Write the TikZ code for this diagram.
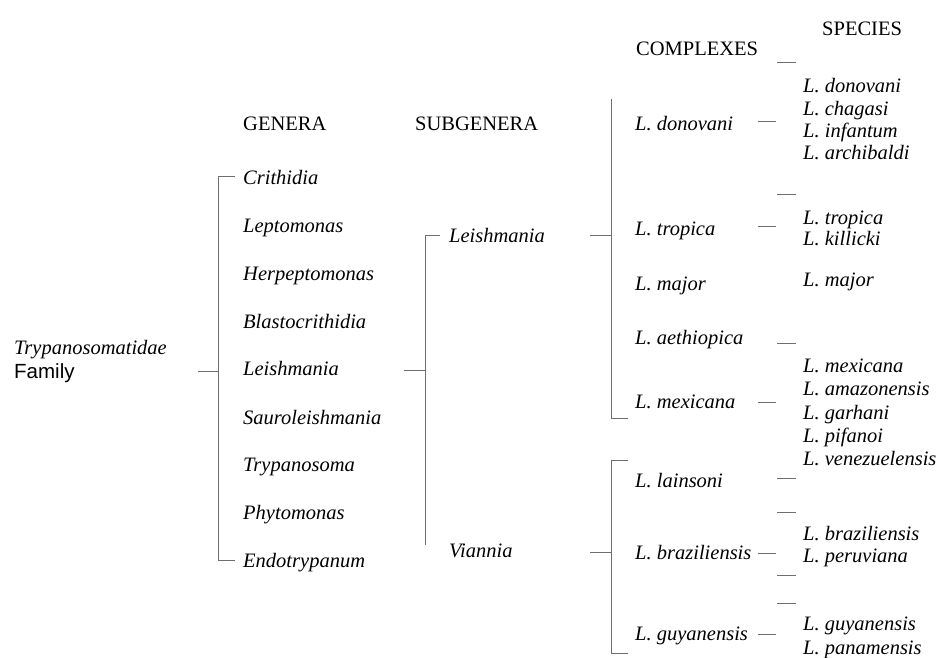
\documentclass[tikz,border=0pt]{standalone}
\usepackage{fontspec}
\setmainfont{Liberation Serif}
\newfontfamily\famsans{Liberation Sans}
\begin{document}
\begin{tikzpicture}[x=1pt,y=-1pt,
  lbl/.style={anchor=base west,inner sep=0pt,font=\fontsize{20.5}{24}\selectfont},
  tax/.style={lbl,font=\fontsize{20.5}{24}\selectfont\itshape},
  head/.style={lbl},
  link/.style={draw={rgb,255:red,110;green,110;blue,110},line width=0.9pt}]
\useasboundingbox (0,0) rectangle (940,657);
% headers
\node[head] (hgen) at (243,130) {GENERA};
\node[head] (hsub) at (415,130) {SUBGENERA};
\node[head] (hcom) at (636,55) {COMPLEXES};
\node[head] (hspe) at (822,35) {SPECIES};
% family
\node[tax] (fam1) at (14,354) {Trypanosomatidae};
\node[lbl,font=\fontsize{20.5}{24}\selectfont\famsans] (fam2) at (14,378) {Family};
% genera
\node[tax] (g1) at (243,184) {Crithidia};
\node[tax] (g2) at (243,232) {Leptomonas};
\node[tax] (g3) at (243,280) {Herpeptomonas};
\node[tax] (g4) at (243,328) {Blastocrithidia};
\node[tax] (g5) at (243,375) {Leishmania};
\node[tax] (g6) at (243,424) {Sauroleishmania};
\node[tax] (g7) at (243,471) {Trypanosoma};
\node[tax] (g8) at (243,519) {Phytomonas};
\node[tax] (g9) at (243,567) {Endotrypanum};
% subgenera
\node[tax] (s1) at (449,242) {Leishmania};
\node[tax] (s2) at (449,557) {Viannia};
% complexes
\node[tax] (c1) at (635,130) {L. donovani};
\node[tax] (c2) at (635,235) {L. tropica};
\node[tax] (c3) at (635,290) {L. major};
\node[tax] (c4) at (635,344) {L. aethiopica};
\node[tax] (c5) at (635,408) {L. mexicana};
\node[tax] (c6) at (635,487) {L. lainsoni};
\node[tax] (c7) at (635,559) {L. braziliensis};
\node[tax] (c8) at (635,640) {L. guyanensis};
% species
\node[tax] (p1) at (803,92) {L. donovani};
\node[tax] (p2) at (803,115) {L. chagasi};
\node[tax] (p3) at (803,137) {L. infantum};
\node[tax] (p4) at (803,159) {L. archibaldi};
\node[tax] (p5) at (803,224) {L. tropica};
\node[tax] (p6) at (803,245) {L. killicki};
\node[tax] (p7) at (803,286) {L. major};
\node[tax] (p8) at (803,372) {L. mexicana};
\node[tax] (p9) at (803,395) {L. amazonensis};
\node[tax] (p10) at (803,419) {L. garhani};
\node[tax] (p11) at (803,442) {L. pifanoi};
\node[tax] (p12) at (803,465) {L. venezuelensis};
\node[tax] (p13) at (803,540) {L. braziliensis};
\node[tax] (p14) at (803,562) {L. peruviana};
\node[tax] (p15) at (803,630) {L. guyanensis};
\node[tax] (p16) at (803,654) {L. panamensis};
% connector points
\coordinate (fa) at (198,371); \coordinate (fb) at (218,371);
\coordinate (gt) at (235,176); \coordinate (gtv) at (218,176);
\coordinate (gbv) at (218,560); \coordinate (gb) at (235,560);
\coordinate (la) at (404,370); \coordinate (lb) at (425,370);
\coordinate (st) at (440,235); \coordinate (stv) at (425,235); \coordinate (sbv) at (425,545);
\coordinate (sla) at (590,235); \coordinate (slb) at (611,235);
\coordinate (ltv) at (611,99); \coordinate (lbv) at (611,418); \coordinate (lb2) at (628,418);
\coordinate (sva) at (590,552); \coordinate (svb) at (611,552);
\coordinate (vt) at (628,460); \coordinate (vtv) at (611,460);
\coordinate (vbv) at (611,653); \coordinate (vb) at (628,653);
\draw[link] (fa) -- (fb);
\draw[link] (gt) -- (gtv) -- (gbv) -- (gb);
\draw[link] (la) -- (lb);
\draw[link] (st) -- (stv) -- (sbv);
\draw[link] (sla) -- (slb);
\draw[link] (ltv) -- (lbv) -- (lb2);
\draw[link] (sva) -- (svb);
\draw[link] (vt) -- (vtv) -- (vbv) -- (vb);
% complex to species connectors
\foreach \n/\yy in {cd/121,ct/226,cm/402,cb/553,cg/634}{
  \coordinate (\n a) at (758,\yy); \coordinate (\n b) at (776,\yy);
  \draw[link] (\n a) -- (\n b);}
% species bracket stubs
\foreach \n/\yy in {s1/62,s2/194,s3/343,s4/478,s5/512,s6/575,s7/603}{
  \coordinate (\n a) at (777,\yy); \coordinate (\n b) at (796,\yy);
  \draw[link] (\n a) -- (\n b);}
\end{tikzpicture}
\end{document}
